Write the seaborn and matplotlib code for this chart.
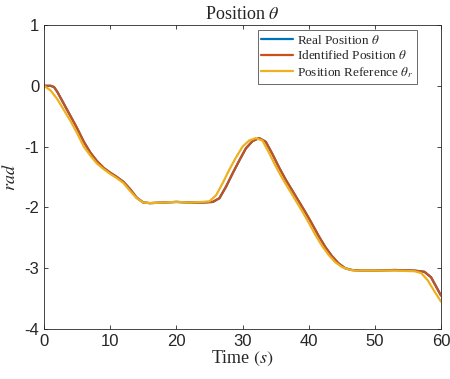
import numpy as np
import pandas as pd
import matplotlib
matplotlib.use("Agg")
import matplotlib.pyplot as plt
import seaborn as sns

# Position reference (yellow)
t_ref = [0, 1, 2, 3, 4, 5, 6, 7, 8, 9, 10, 11, 12, 13, 14, 15, 16, 18, 20, 22, 24, 25,
         26, 27, 28, 29, 30, 31, 32, 33, 34, 35, 36, 37, 38, 39, 40, 41, 42, 43, 44, 45,
         46, 47, 50, 53, 56, 57, 58, 59, 60]
pos_ref = [0, -0.08, -0.22, -0.4, -0.58, -0.78, -1.0, -1.15, -1.28, -1.37, -1.45, -1.52,
           -1.6, -1.73, -1.85, -1.92, -1.93, -1.92, -1.91, -1.92, -1.91, -1.9,
           -1.8, -1.6, -1.38, -1.18, -1.0, -0.9, -0.86, -0.9, -1.1, -1.32, -1.52, -1.7,
           -1.88, -2.06, -2.25, -2.45, -2.63, -2.78, -2.9, -2.98,
           -3.02, -3.04, -3.04, -3.04, -3.05, -3.08, -3.2, -3.38, -3.55]

# Identified position (red) and real position (blue, lies underneath)
t_id = [0, 1, 1.5, 2, 3, 4, 5, 6, 7, 8, 9, 10, 11, 12, 13, 14, 15, 16, 18, 20, 22, 24,
        25.5, 26.5, 27.5, 28.5, 29.5, 30.5, 31.5, 32.5, 33.5, 34.5, 35.5, 36.5, 37.5,
        38.5, 39.5, 40.5, 41.5, 42.5, 43.5, 44.5, 45.5, 46.5, 48, 50, 53, 56, 57.5,
        58.5, 59.5, 60]
pos_id = [0, 0, -0.02, -0.1, -0.3, -0.5, -0.7, -0.92, -1.1, -1.24, -1.35, -1.43, -1.5,
          -1.58, -1.7, -1.84, -1.92, -1.93, -1.92, -1.91, -1.92, -1.92,
          -1.91, -1.85, -1.66, -1.44, -1.23, -1.03, -0.91, -0.86, -0.92, -1.12, -1.34,
          -1.54, -1.72, -1.9, -2.08, -2.27, -2.47, -2.65, -2.8, -2.92, -3.0, -3.03,
          -3.04, -3.04, -3.03, -3.04, -3.06, -3.15, -3.35, -3.45]
pos_real = list(pos_id)

labels = [r"Real Position $\theta$", r"Identified Position $\theta$",
          r"Position Reference $\theta_r$"]
colors = ["#0072BD", "#C8501C", "#EDB120"]

sns.set_style("white")
plt.rcParams["font.family"] = ["Liberation Sans", "DejaVu Sans"]
plt.rcParams["mathtext.fontset"] = "stix"
plt.rcParams["axes.unicode_minus"] = False

fig = plt.figure(figsize=(4.5, 3.79), dpi=100)
ax = fig.add_axes([0.098, 0.132, 0.882, 0.802])

serif = ["Liberation Serif", "DejaVu Serif"]
sns.lineplot(x=t_id, y=pos_real, ax=ax, color=colors[0], lw=1.6, label=labels[0])
sns.lineplot(x=t_id, y=pos_id, ax=ax, color=colors[1], lw=1.6, label=labels[1])
sns.lineplot(x=t_ref, y=pos_ref, ax=ax, color=colors[2], lw=1.6, label=labels[2])

ax.set_xlim(0, 60)
ax.set_ylim(-4, 1)
ax.set_xticks([0, 10, 20, 30, 40, 50, 60])
ax.set_yticks([-4, -3, -2, -1, 0, 1])
ax.tick_params(direction="in", length=3, width=0.6, colors="#262626",
               labelsize=12, top=True, right=True, bottom=True, left=True,
               labeltop=False, labelright=False)
for s in ax.spines.values():
    s.set_color("#262626")
    s.set_linewidth(0.6)

ax.set_title(r"Position $\theta$", fontsize=13, family=serif, pad=4)
ax.set_xlabel(r"Time $(s)$", fontsize=13, family=serif, labelpad=0)
ax.set_ylabel(r"$rad$", fontsize=13, family=serif, labelpad=4)

leg = ax.legend(loc="upper right", bbox_to_anchor=(0.9395, 0.984),
                prop={"family": serif, "size": 9.5},
                frameon=True, fancybox=False, edgecolor="#262626",
                handlelength=2.4, handletextpad=0.3, borderpad=0.3,
                labelspacing=0.2, borderaxespad=0.0)
leg.get_frame().set_linewidth(0.6)

fig.savefig("out.png", dpi=100)
